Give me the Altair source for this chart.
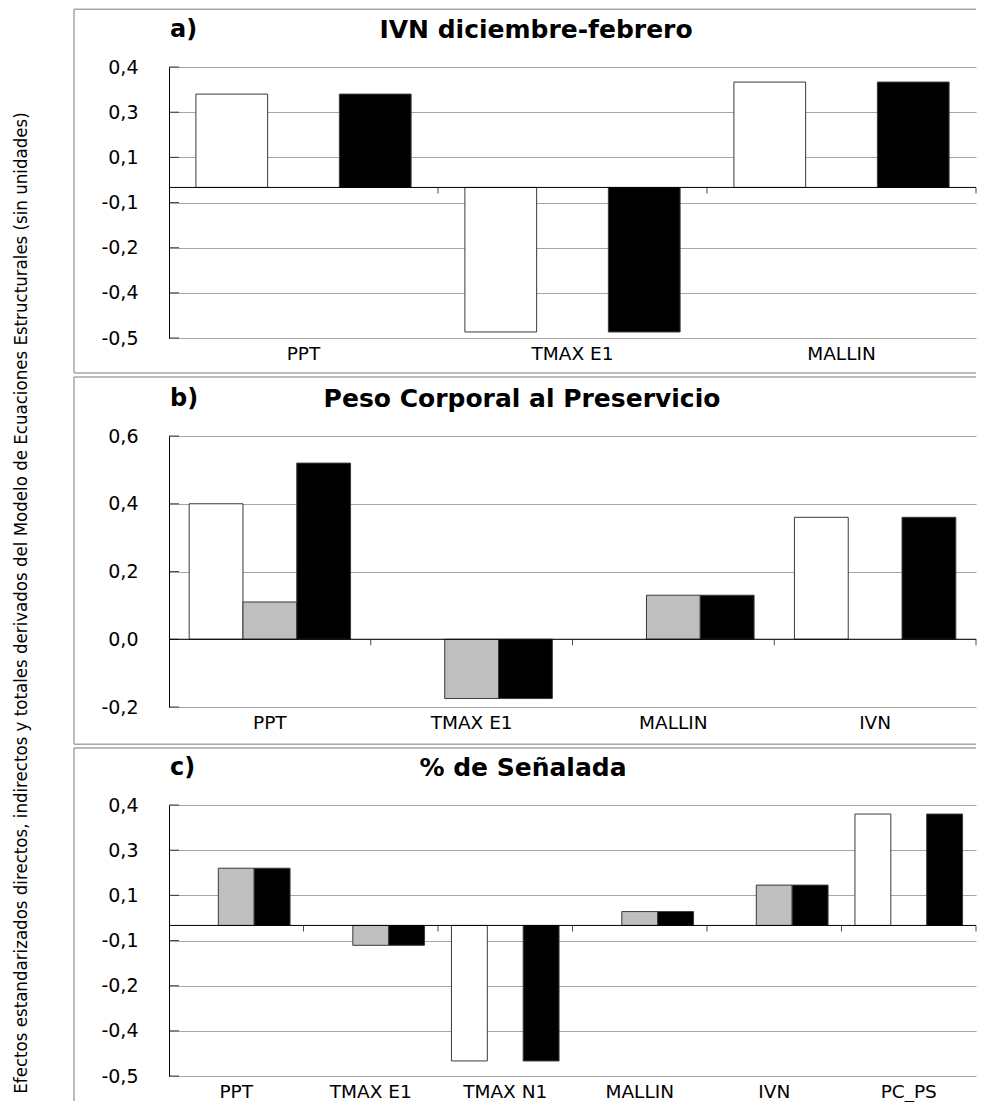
import altair as alt
import pandas as pd

# ---------------- data ----------------
SERIES = ["Directo", "Indirecto", "Total"]
SERIES_COLORS = ["#ffffff", "#bfbfbf", "#000000"]

A_CATS = ["PPT", "TMAX E1", "MALLIN"]
A_DIR = [0.31, -0.48, 0.35]
A_IND = [0.0, 0.0, 0.0]
A_TOT = [0.31, -0.48, 0.35]

B_CATS = ["PPT", "TMAX E1", "MALLIN", "IVN"]
B_DIR = [0.40, 0.0, 0.0, 0.36]
B_IND = [0.11, -0.175, 0.13, 0.0]
B_TOT = [0.52, -0.175, 0.13, 0.36]

C_CATS = ["PPT", "TMAX E1", "TMAX N1", "MALLIN", "IVN", "PC_PS"]
C_DIR = [0.0, 0.0, -0.45, 0.0, 0.0, 0.37]
C_IND = [0.19, -0.066, 0.0, 0.046, 0.134, 0.0]
C_TOT = [0.19, -0.066, -0.45, 0.046, 0.134, 0.37]

AC_TICKS = [-0.5, -0.35, -0.2, -0.05, 0.1, 0.25, 0.4]
AC_LABELS = ["-0,5", "-0,4", "-0,2", "-0,1", "0,1", "0,3", "0,4"]
B_TICKS = [-0.2, 0.0, 0.2, 0.4, 0.6]
B_LABELS = ["-0,2", "0,0", "0,2", "0,4", "0,6"]

TITLES = ["IVN diciembre-febrero", "Peso Corporal al Preservicio", "% de Señalada"]
LETTERS = ["a)", "b)", "c)"]
Y_TITLE = ("Efectos estandarizados directos, indirectos y totales derivados "
           "del Modelo de Ecuaciones Estructurales (sin unidades)")

# ---------------- style ----------------
W = 807
H = 271
LABEL_FONT = "DejaVu Sans"
TITLE_FONT = "DejaVu Sans"
YTITLE_FONT = "DejaVu Sans Condensed"
GRID = "#a6a6a6"
FRAME = "#a6a6a6"
ONE = pd.DataFrame({"k": [0]})


def label_expr(vals, labels):
    expr = "''"
    for v, l in zip(vals, labels):
        expr = f"abs(datum.value - ({v})) < 0.001 ? '{l}' : ({expr})"
    return expr


def panel(cats, dvals, ivals, tvals, ticks, labels, domain, title, letter,
          frame_top, frame_bottom, title_x, ytitle=False, bottom_line=True):
    rows = []
    for k, c in enumerate(cats):
        for s, vals in zip(SERIES, (dvals, ivals, tvals)):
            rows.append({"cat": c, "serie": s, "value": vals[k]})
    df = pd.DataFrame(rows)

    xscale = alt.Scale(domain=cats, paddingInner=0.2, paddingOuter=0.1)
    xaxis = alt.Axis(title=None, labelAngle=0, domain=False, ticks=False, grid=False,
                     labelFont=LABEL_FONT, labelFontSize=18.5, labelPadding=6,
                     labelColor="#000000")
    yscale = alt.Scale(domain=domain, nice=False, zero=False)
    yaxis = alt.Axis(title=None, values=ticks, labelExpr=label_expr(ticks, labels),
                     grid=True, gridColor=GRID, gridWidth=1, ticks=False,
                     domainColor="#000000", domainWidth=1,
                     labelFont=LABEL_FONT, labelFontSize=19, labelPadding=31,
                     labelColor="#000000")

    bars = alt.Chart(df).transform_filter("datum.value != 0").mark_bar(
        stroke="#3a3a3a", strokeWidth=1
    ).encode(
        x=alt.X("cat:N", sort=cats, scale=xscale, axis=xaxis),
        xOffset=alt.XOffset("serie:N", sort=SERIES,
                            scale=alt.Scale(domain=SERIES, paddingInner=0, paddingOuter=0)),
        y=alt.Y("value:Q", scale=yscale, axis=yaxis),
        fill=alt.Fill("serie:N", scale=alt.Scale(domain=SERIES, range=SERIES_COLORS),
                      legend=None),
    )

    zero = alt.Chart(ONE).mark_rule(color="#000000", strokeWidth=1).encode(
        y=alt.Y(datum=0, scale=yscale, axis=yaxis)
    )

    step = W / len(cats)
    cat_ticks = alt.Chart(pd.DataFrame({"cat": cats})).mark_tick(
        orient="vertical", size=6, yOffset=3, xOffset=0.1 * step,
        color="#000000", thickness=1
    ).encode(
        x=alt.X("cat:N", sort=cats, scale=xscale, axis=xaxis, bandPosition=1),
        y=alt.Y(datum=0, scale=yscale, axis=yaxis),
    )

    y_ticks = alt.Chart(pd.DataFrame({"v": ticks})).mark_tick(
        orient="horizontal", size=10, color="#000000", thickness=1
    ).encode(
        y=alt.Y("v:Q", scale=yscale, axis=yaxis),
        x=alt.value(5),
    )

    fr = alt.Chart(ONE).mark_rule(color=FRAME, strokeWidth=1.5)
    f_top = fr.encode(x=alt.value(-95), x2=alt.value(W), y=alt.value(frame_top))
    f_left = fr.encode(x=alt.value(-95), y=alt.value(frame_top), y2=alt.value(frame_bottom))
    frames = [f_top, f_left]
    if bottom_line:
        frames.append(fr.encode(x=alt.value(-95), x2=alt.value(W), y=alt.value(frame_bottom)))

    t_main = alt.Chart(ONE).mark_text(
        font=TITLE_FONT, fontSize=25, fontWeight="bold", align="center",
        baseline="middle", color="#000000"
    ).encode(x=alt.value(title_x), y=alt.value(-37), text=alt.value(title))

    t_letter = alt.Chart(ONE).mark_text(
        font=TITLE_FONT, fontSize=24, fontWeight="bold", align="left",
        baseline="middle", color="#000000"
    ).encode(x=alt.value(1), y=alt.value(-37), text=alt.value(letter))

    layers = frames + [bars, zero, cat_ticks, y_ticks, t_main, t_letter]
    if ytitle:
        t_y = alt.Chart(ONE).mark_text(
            font=YTITLE_FONT, fontSize=18.5, angle=270, align="center",
            baseline="middle", color="#000000"
        ).encode(x=alt.value(-148), y=alt.value(167), text=alt.value(Y_TITLE))
        layers.append(t_y)

    return alt.layer(*layers).properties(width=W, height=H)


pa = panel(A_CATS, A_DIR, A_IND, A_TOT, AC_TICKS, AC_LABELS, [-0.5, 0.4],
           TITLES[0], LETTERS[0], -57.7, 306, 367)
pb = panel(B_CATS, B_DIR, B_IND, B_TOT, B_TICKS, B_LABELS, [-0.2, 0.6],
           TITLES[1], LETTERS[1], -59, 308.3, 353, ytitle=True)
pc = panel(C_CATS, C_DIR, C_IND, C_TOT, AC_TICKS, AC_LABELS, [-0.5, 0.4],
           TITLES[2], LETTERS[2], -57, 296, 354, bottom_line=False)

chart = alt.vconcat(pa, pb, pc, spacing=98, bounds="flush").resolve_scale(
    xOffset="independent", x="independent", y="independent"
).properties(
    padding={"left": 3, "top": 0, "right": 0, "bottom": 0},
    background="#ffffff",
).configure_view(stroke=None)

chart.save("out.html", embed_options={"renderer": "svg", "actions": False})
